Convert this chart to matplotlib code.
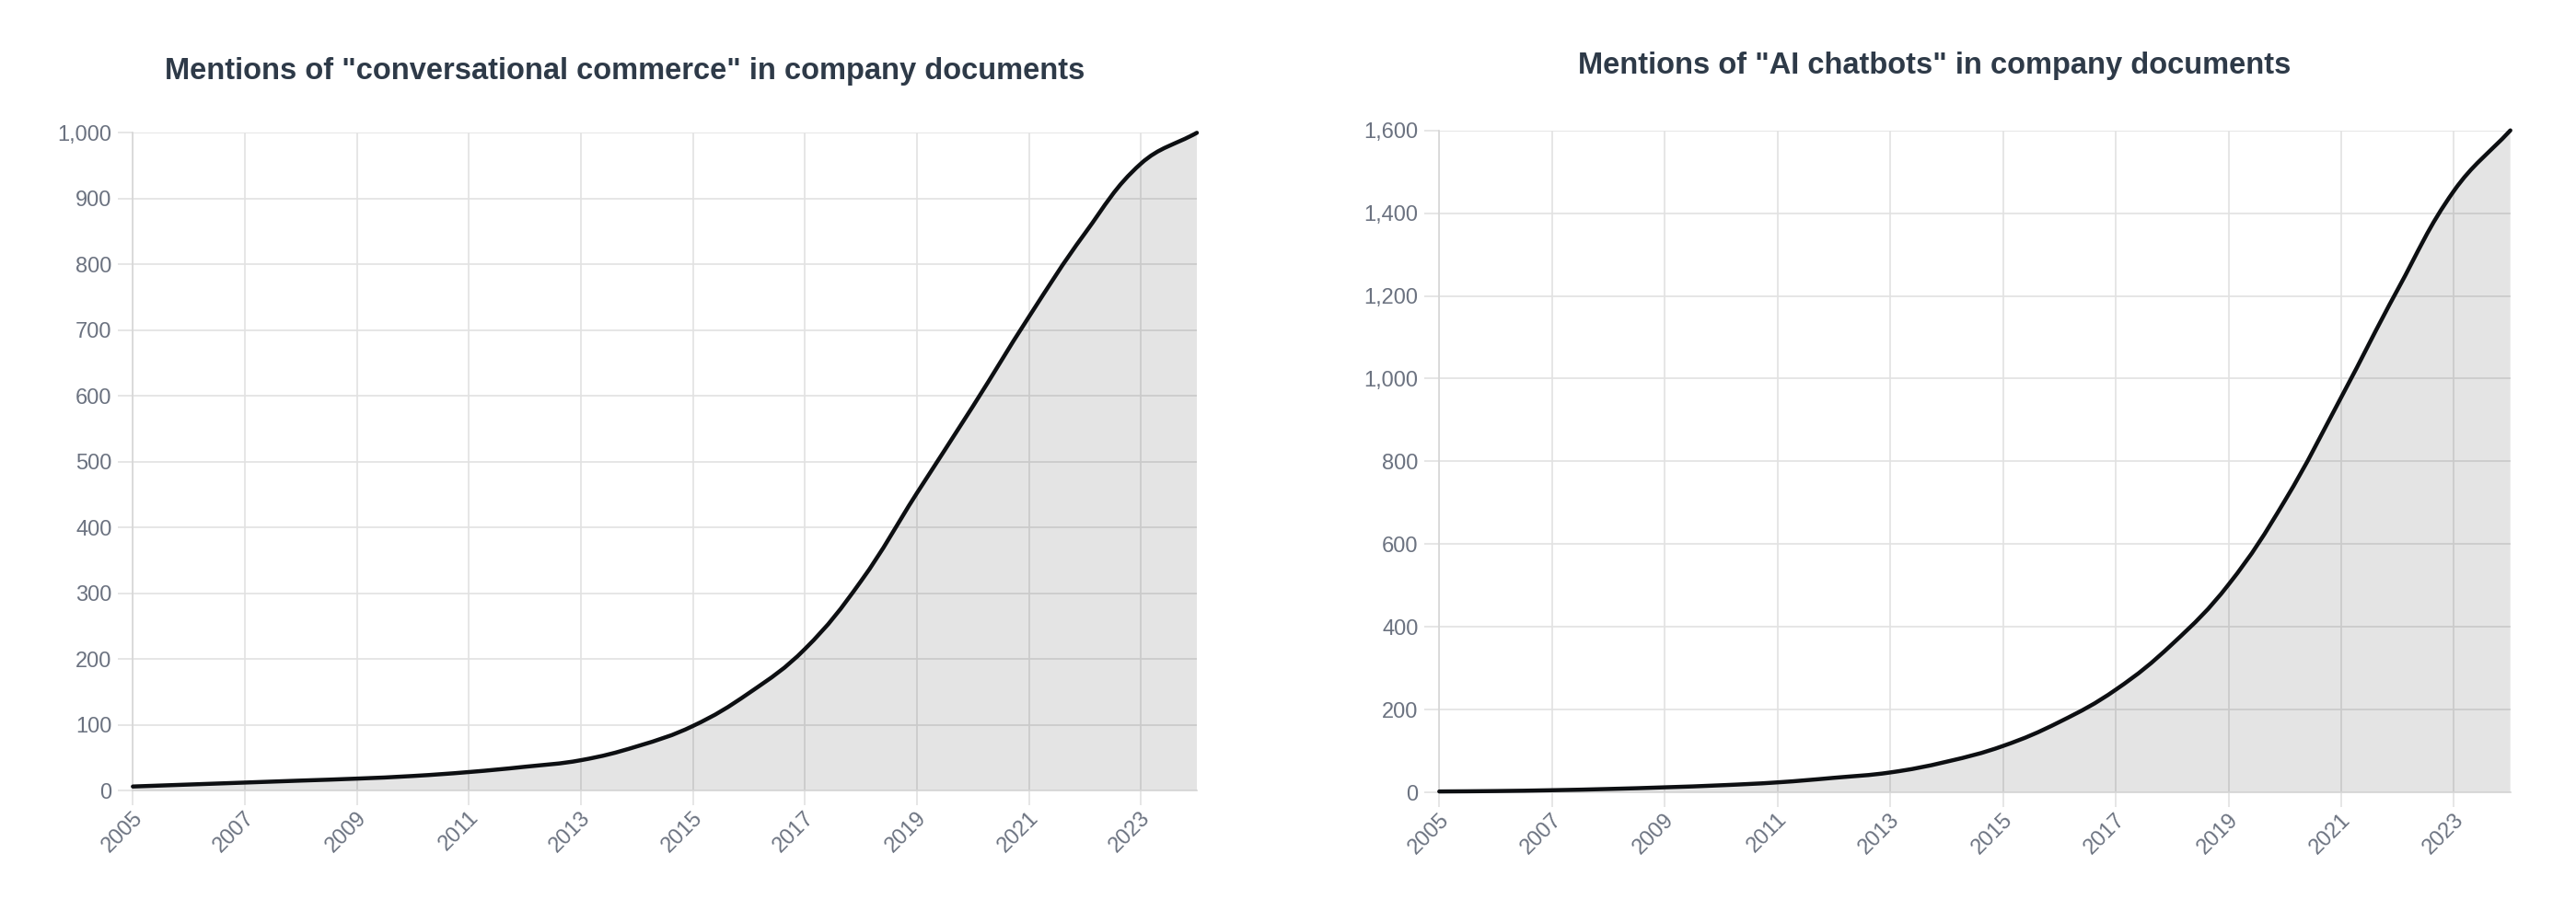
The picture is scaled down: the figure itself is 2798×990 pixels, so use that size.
import matplotlib
matplotlib.use("Agg")
import matplotlib.pyplot as plt
import numpy as np
from matplotlib.path import Path
from matplotlib.patches import PathPatch
from matplotlib.ticker import FuncFormatter, MultipleLocator
import matplotlib.transforms as mtransforms

years = list(range(2005, 2025))
commerce_mentions = [6, 9, 12, 15, 18, 22, 28, 36, 46, 67, 98, 148, 215, 318, 452, 584, 720, 847, 953, 1000]
chatbot_mentions = [2, 3, 5, 8, 12, 17, 24, 35, 48, 74, 112, 170, 248, 358, 502, 705, 955, 1215, 1454, 1600]

titles = ['Mentions of "conversational commerce" in company documents',
          'Mentions of "AI chatbots" in company documents']
y_max = [1000, 1600]
y_step = [100, 200]
x_tick_years = list(range(2005, 2024, 2))

TITLE_COLOR = "#2e3a48"
TICK_COLOR = "#6b7280"
GRID_COLOR = "#e2e2e2"
LINE_COLOR = "#0d0f12"
FONT = ["Liberation Sans", "DejaVu Sans"]

plt.rcParams["font.family"] = FONT

W, H = 2798, 990
fig = plt.figure(figsize=(W / 100, H / 100), dpi=100)
fig.patch.set_facecolor("white")

# axes boxes in pixels: left, top, right, bottom
boxes = [(144.3, 144.3, 1300.0, 859.0), (1563.3, 141.7, 2726.7, 861.0)]
title_centers = [(679, 86), (2101, 80)]


def tension_path(ax, x, y, t=0.4):
    """Chart.js-style spline: control points computed in display space."""
    pts = ax.transData.transform(np.column_stack([x, y]))
    n = len(pts)
    verts = [pts[0]]
    codes = [Path.MOVETO]
    cps = []
    for i in range(n):
        prev = pts[i - 1] if i > 0 else pts[i]
        cur = pts[i]
        nxt = pts[i + 1] if i < n - 1 else pts[i]
        d01 = np.hypot(*(cur - prev))
        d12 = np.hypot(*(nxt - cur))
        tot = d01 + d12
        s01 = d01 / tot if tot else 0
        s12 = d12 / tot if tot else 0
        cp_prev = cur - t * s01 * (nxt - prev)
        cp_next = cur + t * s12 * (nxt - prev)
        cps.append((cp_prev, cp_next))
    for i in range(n - 1):
        verts += [cps[i][1], cps[i + 1][0], pts[i + 1]]
        codes += [Path.CURVE4] * 3
    inv = ax.transData.inverted()
    dverts = inv.transform(np.array(verts))
    return [tuple(v) for v in dverts], codes


series = [commerce_mentions, chatbot_mentions]
for k in range(2):
    l, t, r, b = boxes[k]
    ax = fig.add_axes([l / W, 1 - b / H, (r - l) / W, (b - t) / H])
    vals = series[k]
    ax.set_xlim(years[0], years[-1])
    ax.set_ylim(0, y_max[k])
    verts, codes = tension_path(ax, years, vals)
    fverts = verts + [(years[-1], 0), (years[0], 0), (years[0], 0)]
    fcodes = codes + [Path.LINETO, Path.LINETO, Path.CLOSEPOLY]
    ax.add_patch(PathPatch(Path(fverts, fcodes), facecolor="black", alpha=0.105,
                           edgecolor="none", zorder=1))
    ax.add_patch(PathPatch(Path(verts, codes), facecolor="none", edgecolor=LINE_COLOR,
                           lw=3.2, capstyle="round", joinstyle="round", zorder=3,
                           clip_on=False))
    ax.set_xticks(x_tick_years)
    ax.set_xticklabels([str(v) for v in x_tick_years], rotation=45, ha="right",
                       va="center", rotation_mode="anchor")
    ax.yaxis.set_major_locator(MultipleLocator(y_step[k]))
    ax.yaxis.set_major_formatter(FuncFormatter(lambda v, p: f"{int(v):,}"))
    ax.grid(True, color=GRID_COLOR, lw=1.2, zorder=0)
    ax.set_axisbelow(True)
    for s in ["top", "right"]:
        ax.spines[s].set_visible(False)
    for s in ["left", "bottom"]:
        ax.spines[s].set_color("#d6d6d6")
        ax.spines[s].set_linewidth(1.2)
    ax.tick_params(axis="both", colors=GRID_COLOR, length=11.5, width=1.2,
                   labelcolor=TICK_COLOR, labelsize=17)
    ax.tick_params(axis="x", pad=3)
    ax.tick_params(axis="y", pad=5)
    offset = mtransforms.ScaledTranslation(7 / 100, -6 / 100, fig.dpi_scale_trans)
    for lab in ax.get_xticklabels():
        lab.set_transform(lab.get_transform() + offset)
    ax.set_facecolor("white")
    cx, cy = title_centers[k]
    fig.text(cx / W, 1 - cy / H, titles[k], ha="center", va="baseline",
             fontsize=23.5, fontweight="bold", color=TITLE_COLOR)

fig.savefig("out.png", dpi=100, facecolor="white")
